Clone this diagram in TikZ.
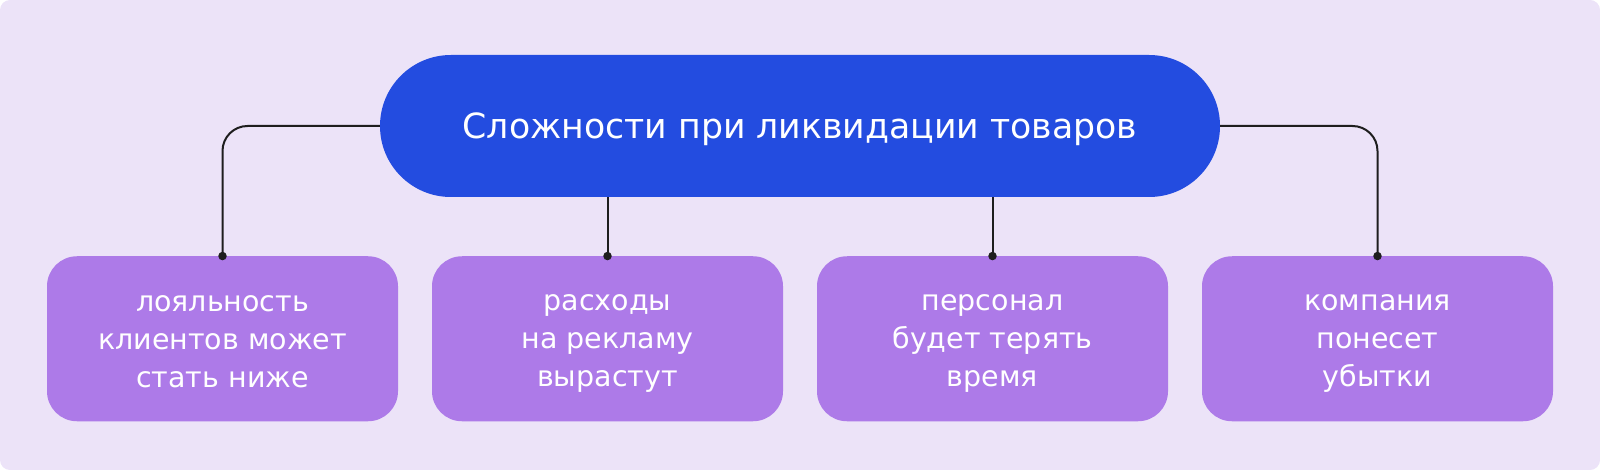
\documentclass[tikz,border=0pt]{standalone}
\usepackage{fontspec}
\setmainfont{DejaVu Sans}
\definecolor{bgc}{HTML}{ECE3F8}
\definecolor{pillblue}{HTML}{234CE0}
\definecolor{boxpurple}{HTML}{AD7AE8}
\definecolor{linegray}{HTML}{1E1E1E}
\newcommand\topstrut{\rule{0pt}{26pt}}
\newcommand\botstrut{\rule[-5.5pt]{0pt}{5.5pt}}
\begin{document}
\begin{tikzpicture}[x=1pt,y=-1pt,
  titlebox/.style={fill=pillblue, rounded corners=70.9pt, minimum width=840pt, minimum height=142pt, inner sep=0pt, text=white, text depth=0pt, font=\fontsize{34.7}{42}\selectfont},
  itembox/.style={fill=boxpurple, rounded corners=30pt, minimum width=351pt, minimum height=165pt, inner sep=0pt, text=white, align=center, font=\fontsize{28.5}{38}\selectfont},
  link/.style={draw=linegray, line width=2pt, rounded corners=25pt},
  dotmark/.style={circle, fill=linegray, inner sep=0pt, minimum size=8.5pt}]
\fill[bgc, rounded corners=10pt] (0,0) rectangle (1600,470);
\useasboundingbox (0,0) rectangle (1600,470);
\node[titlebox] (t) at (800,126) {Сложности при ликвидации товаров};
\node[itembox] (b1) at (222.5,338.75) {\topstrut лояльность\\клиентов может\\стать ниже\botstrut};
\node[itembox] (b2) at (607.5,338.75) {\topstrut расходы\\на рекламу\\вырастут\botstrut};
\node[itembox] (b3) at (992.5,338.75) {\topstrut персонал\\будет терять\\время\botstrut};
\node[itembox] (b4) at (1377.5,338.75) {\topstrut компания\\понесет\\убытки\botstrut};
\draw[link] (t.west) -| (b1.north);
\draw[link] (t.east) -| (b4.north);
\draw[link] (b2.north |- t.south) -- (b2.north);
\draw[link] (b3.north |- t.south) -- (b3.north);
\foreach \b in {b1,b2,b3,b4} \node[dotmark] at (\b.north) {};
\end{tikzpicture}
\end{document}
